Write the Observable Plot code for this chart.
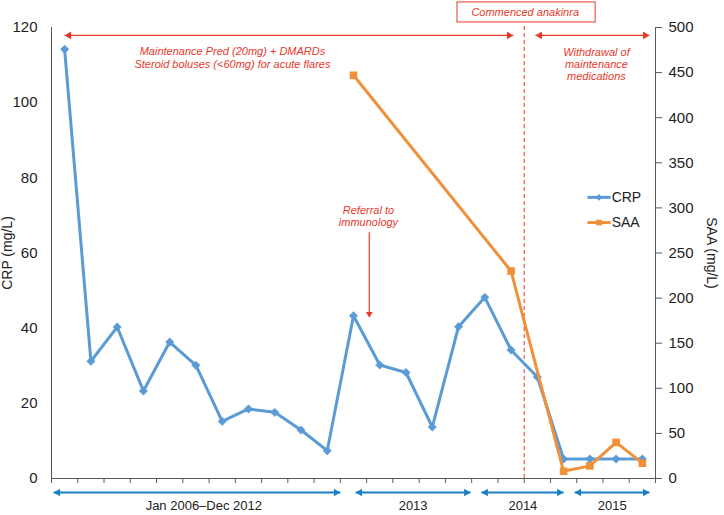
<!DOCTYPE html>
<html><head><meta charset="utf-8">
<script src="https://cdn.jsdelivr.net/npm/d3@7"></script>
<script src="https://cdn.jsdelivr.net/npm/@observablehq/plot@0.6"></script>
<style>body{margin:0;background:#fff;} svg{display:block}</style>
</head><body><div id="chart"></div>
<script>
// ---- data ----
const crpValues = [114.2, 31.2, 40.3, 23.3, 36.3, 30.1, 15.2, 18.5, 17.6, 12.9, 7.4, 43.3, 30.2, 28.2, 13.7, 40.4, 48.2, 34.2, 27.0, 5.2, 5.2, 5.2, 5.2];
const saaPositions = [11, 17, 19, 20, 21, 22];
const saaValues = [447, 230, 8, 14, 40, 17];
const crpTicks = [0, 20, 40, 60, 80, 100, 120];
const saaTicks = [0, 50, 100, 150, 200, 250, 300, 350, 400, 450, 500];
const seriesNames = ["CRP", "SAA"];
const periodLabels = ["Jan 2006\u2013Dec 2012", "2013", "2014", "2015"];
const periodStart = [-0.42, 11.08, 15.87, 19.42];
const periodEnd = [10.5, 15.46, 19.0, 22.27];
const periodLabelX = [5.3, 13.27, 17.45, 20.85];
// annotations (in data units)
const treatmentText = ["Maintenance Pred (20mg) + DMARDs\nSteroid boluses (<60mg) for acute flares", "Withdrawal of\nmaintenance\nmedications"];
const treatmentStart = [0, 17.93];
const treatmentEnd = [17.09, 22.27];
const treatmentTextX = [6.39, 20.25];
const treatmentTextY = [112.0, 110.3];
const anakinraText = "Commenced anakinra";
const anakinraX = 17.5;
const referralText = "Referral to\nimmunology";
const referralX = 11.6;

const CRP_MAX = 120, SAA_MAX = 500, k = CRP_MAX / SAA_MAX;
const blue = "#5b9bd5", orange = "#f0913a", red = "#e8382b", arrowBlue = "#1a80c4", axisGray = "#5a5a5a";
const font = '"Liberation Sans", Arial, Helvetica, sans-serif';

const crp = crpValues.map((v, i) => ({i, v}));
const saa = saaValues.map((v, j) => ({i: saaPositions[j], v: v * k}));
const boundaries = d3.range(crpValues.length + 1).map(b => b - 0.5);
const periods = periodLabels.map((l, j) => ({l, x1: periodStart[j], x2: periodEnd[j], xl: periodLabelX[j]}));
const treat = treatmentText.map((t, j) => ({t, x1: treatmentStart[j], x2: treatmentEnd[j], xt: treatmentTextX[j], yt: treatmentTextY[j]}));
const legend = seriesNames.map((n, j) => ({n, y: [74.8, 68.1][j], color: [blue, orange][j], symbol: ["diamond2", "square"][j], r: [3.6, 4.3][j]}));

const arrowY = 117.9, periodY = -3.73, periodLabelY = -7.2;

const chart = Plot.plot({
  width: 724, height: 515,
  marginLeft: 51, marginRight: 69, marginTop: 27, marginBottom: 37,
  x: {domain: [-0.5, 22.5]},
  y: {domain: [0, CRP_MAX]},
  style: {fontFamily: font, fontSize: "14px", background: "#fff", color: "#222", overflow: "visible"},
  marks: [
    // axes
    Plot.axisX(boundaries, {tickSize: 5, tickFormat: () => "", label: null, stroke: axisGray}),
    Plot.axisY(crpTicks, {anchor: "left", tickSize: 0, tickPadding: 14, label: null, fontSize: 15}),
    Plot.axisY(saaTicks.map(v => v * k), {anchor: "right", tickSize: 6, tickPadding: 7, label: null, fontSize: 15, stroke: axisGray, tickFormat: v => String(Math.round(v / k))}),
    Plot.ruleY([0], {stroke: axisGray}),
    Plot.ruleX([-0.5, 22.5], {stroke: axisGray}),
    Plot.text(["CRP (mg/L)"], {text: d => d, frameAnchor: "left", dx: -44, rotate: -90, fontSize: 14, textAnchor: "middle"}),
    Plot.text(["SAA (mg/L)"], {text: d => d, frameAnchor: "right", dx: 56, rotate: 90, fontSize: 14, textAnchor: "middle"}),

    // anakinra start
    Plot.ruleX([anakinraX], {y1: 0, y2: 120.5, stroke: red, strokeDasharray: "4,3", strokeWidth: 1}),
    Plot.rect([anakinraText], {x1: 14.96, x2: 20.22, y1: 121.34, y2: 126.67, fill: "#fff", stroke: red, strokeWidth: 1}),
    Plot.text([anakinraText], {text: d => d, x: anakinraX, y: 124.0, dx: 1, fill: red, fontStyle: "italic", fontSize: 11}),

    // treatment arrows
    Plot.link(treat, {x1: "x1", x2: "x2", y1: arrowY, y2: arrowY, stroke: red, strokeWidth: 1.3}),
    Plot.dot(treat, {x: "x1", y: arrowY, symbol: "triangle", rotate: -90, r: 2.8, fill: red, dx: 4.3}),
    Plot.dot(treat, {x: "x2", y: arrowY, symbol: "triangle", rotate: 90, r: 2.8, fill: red, dx: -4.3}),
    Plot.text(treat, {text: "t", x: "xt", y: "yt", fill: red, fontStyle: "italic", fontSize: 11, lineHeight: 1.12}),

    // referral
    Plot.text([referralText], {text: d => d, x: 11.57, y: 69.85, fill: red, fontStyle: "italic", fontSize: 11, lineHeight: 1.12}),
    Plot.link([referralText], {x1: referralX, x2: referralX, y1: 65.5, y2: 43.5, stroke: red, strokeWidth: 1.2}),
    Plot.dot([referralText], {x: referralX, y: 42.8, symbol: "triangle", rotate: 180, r: 2.5, fill: red, dy: -3.8}),

    // period arrows
    Plot.link(periods, {x1: "x1", x2: "x2", y1: periodY, y2: periodY, stroke: arrowBlue, strokeWidth: 2}),
    Plot.dot(periods, {x: "x1", y: periodY, symbol: "triangle", rotate: -90, r: 2.8, fill: arrowBlue, dx: 4.3}),
    Plot.dot(periods, {x: "x2", y: periodY, symbol: "triangle", rotate: 90, r: 2.8, fill: arrowBlue, dx: -4.3}),
    Plot.text(periods, {text: "l", x: "xl", y: periodLabelY, fontSize: 13, fill: "#222"}),

    // series
    Plot.line(crp, {x: "i", y: "v", stroke: blue, strokeWidth: 3}),
    Plot.dot(crp, {x: "i", y: "v", symbol: "diamond2", r: 3.8, fill: blue, stroke: blue, strokeWidth: 0.5}),
    Plot.line(saa, {x: "i", y: "v", stroke: orange, strokeWidth: 3}),
    Plot.dot(saa, {x: "i", y: "v", symbol: "square", r: 4.3, fill: orange}),

    // legend
    Plot.link(legend, {x1: 19.91, x2: 20.79, y1: "y", y2: "y", stroke: "color", strokeWidth: 3}),
    Plot.dot(legend, {x: 20.35, y: "y", symbol: "symbol", r: "r", fill: "color"}),
    Plot.text(legend, {text: "n", x: 20.83, y: "y", textAnchor: "start", fontSize: 14, fill: "#222"})
  ]
});
document.getElementById("chart").append(chart);
</script>
</body></html>
